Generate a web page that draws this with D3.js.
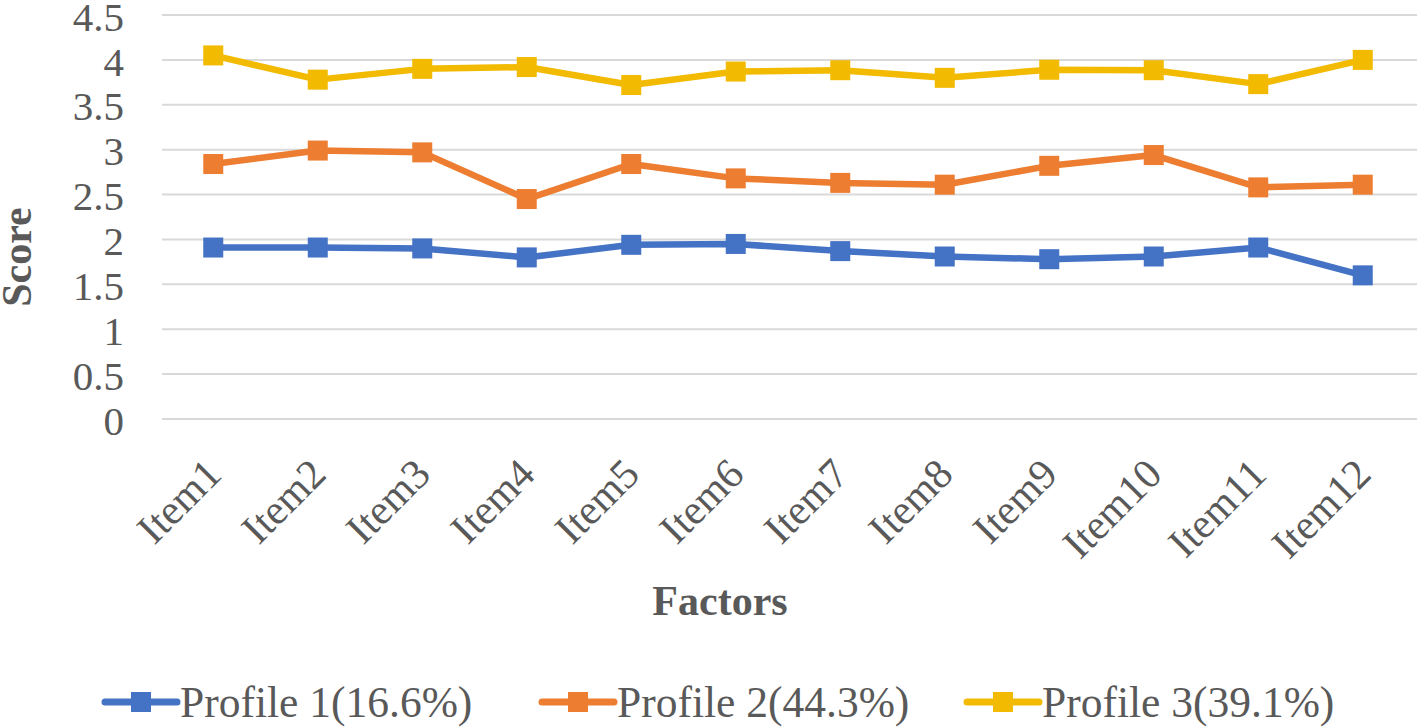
<!DOCTYPE html>
<html>
<head>
<meta charset="utf-8">
<style>
  body { margin: 0; background: #fff; }
  svg { display: block; }
  text { font-family: "Liberation Serif", "Times New Roman", serif; fill: #595959; }
</style>
</head>
<body>
<svg width="1417" height="727"></svg>
<script src="https://d3js.org/d3.v7.min.js"></script>
<script>
var items = ["Item1","Item2","Item3","Item4","Item5","Item6","Item7","Item8","Item9","Item10","Item11","Item12"];
var profile1 = [1.91, 1.91, 1.90, 1.80, 1.94, 1.95, 1.87, 1.81, 1.78, 1.81, 1.91, 1.60];
var profile2 = [2.84, 2.99, 2.97, 2.45, 2.84, 2.68, 2.63, 2.61, 2.82, 2.94, 2.58, 2.61];
var profile3 = [4.05, 3.78, 3.90, 3.92, 3.72, 3.87, 3.885, 3.80, 3.89, 3.885, 3.73, 4.00];
var seriesNames = ["Profile 1(16.6%)", "Profile 2(44.3%)", "Profile 3(39.1%)"];
var yTicks = [0, 0.5, 1, 1.5, 2, 2.5, 3, 3.5, 4, 4.5];

var colors = ["#4472C4", "#ED7D31", "#F2BA00"];
var series = [profile1, profile2, profile3];

var svg = d3.select("svg"),
    plotLeft = 161, plotRight = 1415, plotTop = 15, plotBottom = 419;

var x = d3.scaleBand().domain(items).range([plotLeft, plotRight]);
var y = d3.scaleLinear().domain([0, 4.5]).range([plotBottom, plotTop]);
var cx = function(d) { return x(d) + x.bandwidth() / 2; };

// gridlines
svg.append("g")
  .selectAll("line")
  .data(yTicks)
  .enter().append("line")
    .attr("x1", plotLeft + 1).attr("x2", 1417)
    .attr("y1", function(d) { return y(d); })
    .attr("y2", function(d) { return y(d); })
    .attr("stroke", "#D9D9D9")
    .attr("stroke-width", 2);

// y axis labels
var yaxis = svg.append("g")
    .attr("transform", "translate(124,0)")
    .call(d3.axisLeft(y).tickValues(yTicks).tickSize(0).tickPadding(0).tickFormat(d3.format("")));
yaxis.select(".domain").remove();
yaxis.selectAll("text")
    .style("font-family", "Liberation Serif")
    .style("font-size", "41px")
    .attr("fill", "#595959")
    .attr("dy", "0.37em");

// x axis labels
var xaxis = svg.append("g")
    .attr("transform", "translate(0,466)")
    .call(d3.axisBottom(x).tickSize(0).tickPadding(0));
xaxis.select(".domain").remove();
xaxis.selectAll("text")
    .style("font-family", "Liberation Serif")
    .style("font-size", "42px")
    .attr("fill", "#595959")
    .attr("y", 0)
    .attr("dy", "0.35em")
    .attr("text-anchor", "end")
    .attr("transform", "rotate(-45)");

// axis titles
svg.append("text")
    .attr("transform", "translate(31,257) rotate(-90)")
    .attr("text-anchor", "middle")
    .style("font-size", "42px")
    .style("font-weight", "bold")
    .text("Score");

svg.append("text")
    .attr("x", 720).attr("y", 615)
    .attr("text-anchor", "middle")
    .style("font-size", "42px")
    .style("font-weight", "bold")
    .text("Factors");

// lines
var line = d3.line()
    .x(function(d, i) { return cx(items[i]); })
    .y(function(d) { return y(d); });

series.forEach(function(vals, k) {
  var g = svg.append("g");
  g.append("path")
    .attr("d", line(vals))
    .attr("fill", "none")
    .attr("stroke", colors[k])
    .attr("stroke-width", 6.5)
    .attr("stroke-linejoin", "round");
  g.selectAll("rect")
    .data(vals)
    .enter().append("rect")
      .attr("x", function(d, i) { return cx(items[i]) - 10; })
      .attr("y", function(d) { return y(d) - 10; })
      .attr("width", 20).attr("height", 20)
      .attr("fill", colors[k]);
});

// legend
var legX = [103, 540, 965];
var legend = svg.append("g");
seriesNames.forEach(function(name, k) {
  var lg = legend.append("g").attr("transform", "translate(" + legX[k] + ",702)");
  lg.append("line")
    .attr("x1", 2).attr("x2", 74)
    .attr("stroke", colors[k]).attr("stroke-width", 7)
    .attr("stroke-linecap", "round");
  lg.append("rect")
    .attr("x", 28).attr("y", -10).attr("width", 20).attr("height", 20)
    .attr("fill", colors[k]);
  lg.append("text")
    .attr("x", 77).attr("dy", "0.35em")
    .style("font-size", "43.5px")
    .text(name);
});
</script>
</body>
</html>
